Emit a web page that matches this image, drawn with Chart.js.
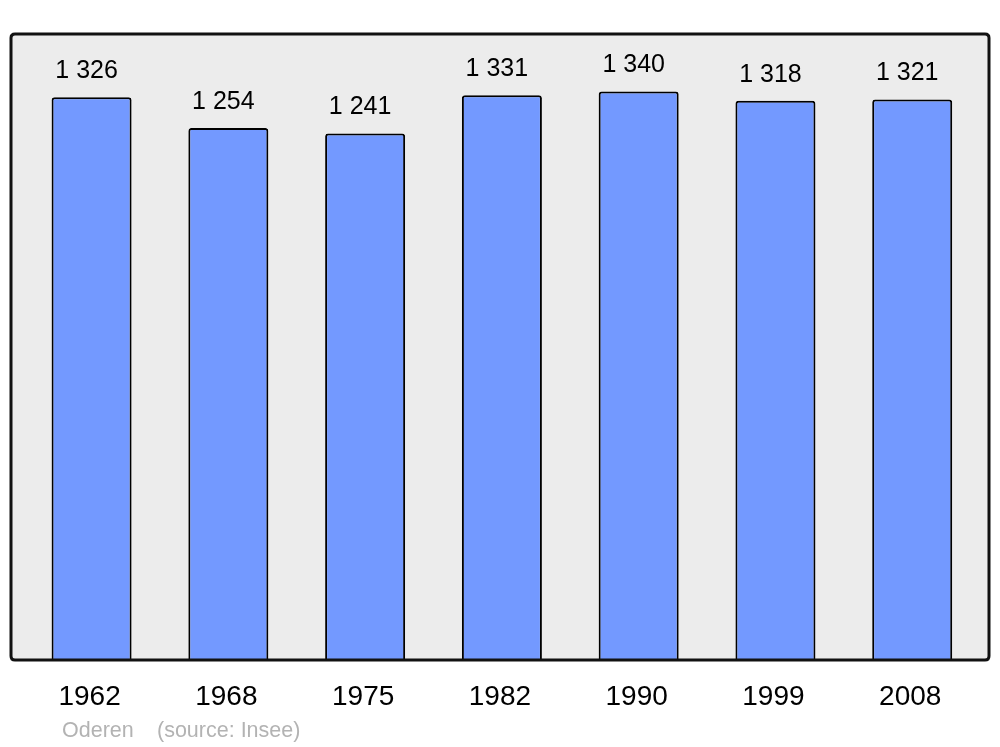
<!DOCTYPE html>
<html>
<head>
<meta charset="utf-8">
<script src="https://cdn.jsdelivr.net/npm/chart.js@4"></script>
<style>
  html, body { margin: 0; padding: 0; background: #fff; }
  #wrap { width: 1000px; height: 747px; }
</style>
</head>
<body>
<div id="wrap"><canvas id="myChart" width="1000" height="747"></canvas></div>
<script>
var years = ["1962", "1968", "1975", "1982", "1990", "1999", "2008"];
var population = [1326, 1254, 1241, 1331, 1340, 1318, 1321];
var townName = "Oderen";
var sourceText = "(source: Insee)";

function fmt(n) {
  // french style thousands: "1 326"
  return String(n).replace(/\B(?=(\d{3})+(?!\d))/g, " ");
}

function panelPath(c, x0, y0, x1, y1, r) {
  c.beginPath();
  c.moveTo(x0 + r, y0);
  c.lineTo(x1 - r, y0);
  c.quadraticCurveTo(x1, y0, x1, y0 + r);
  c.lineTo(x1, y1 - r);
  c.quadraticCurveTo(x1, y1, x1 - r, y1);
  c.lineTo(x0 + r, y1);
  c.quadraticCurveTo(x0, y1, x0, y1 - r);
  c.lineTo(x0, y0 + r);
  c.quadraticCurveTo(x0, y0, x0 + r, y0);
  c.closePath();
}

// grey panel behind the bars, labels on top
var panelPlugin = {
  id: "panel",
  beforeDatasetsDraw: function(chart) {
    var c = chart.ctx, a = chart.chartArea;
    c.save();
    panelPath(c, 11, 34, 989, a.bottom, 4);
    c.fillStyle = "#ececec";
    c.fill();
    c.restore();
  },
  afterDatasetsDraw: function(chart) {
    var c = chart.ctx, a = chart.chartArea;
    c.save();
    panelPath(c, 11, 34, 989, a.bottom, 4);
    c.lineWidth = 3;
    c.strokeStyle = "#111";
    c.stroke();

    // value labels above bars
    var meta = chart.getDatasetMeta(0);
    c.fillStyle = "#000";
    c.font = "25px 'Liberation Sans', Arial, sans-serif";
    c.textAlign = "center";
    c.textBaseline = "middle";
    meta.data.forEach(function(bar, i) {
      c.fillText(fmt(population[i]), bar.x - 5, bar.y - 26);
    });

    // source line
    c.fillStyle = "#b3b3b3";
    c.font = "21.5px 'Liberation Sans', Arial, sans-serif";
    c.textAlign = "left";
    c.textBaseline = "alphabetic";
    c.fillText(townName, 62, 737);
    c.fillText(sourceText, 157, 737);
    c.restore();
  }
};

var ctx = document.getElementById("myChart").getContext("2d");
var myChart = new Chart(ctx, {
  type: "bar",
  data: {
    labels: years,
    datasets: [{
      data: population,
      backgroundColor: "#7399ff",
      borderColor: "#000",
      borderWidth: 2,
      borderSkipped: "bottom",
      borderRadius: { topLeft: 3, topRight: 3, bottomLeft: 0, bottomRight: 0 },
      barPercentage: 0.585,
      categoryPercentage: 1
    }]
  },
  options: {
    responsive: false,
    animation: false,
    layout: { padding: { left: 23.2, right: 19.4, top: 35, bottom: 13.4 } },
    plugins: {
      legend: { display: false },
      tooltip: { enabled: false }
    },
    scales: {
      x: {
        grid: { display: false, drawTicks: false },
        border: { display: false },
        ticks: {
          color: "#000",
          padding: 20,
          labelOffset: -2,
          font: { family: "'Liberation Sans', Arial, sans-serif", size: 28 }
        }
      },
      y: {
        display: false,
        min: 0,
        max: 1473
      }
    }
  },
  plugins: [panelPlugin]
});
</script>
</body>
</html>
